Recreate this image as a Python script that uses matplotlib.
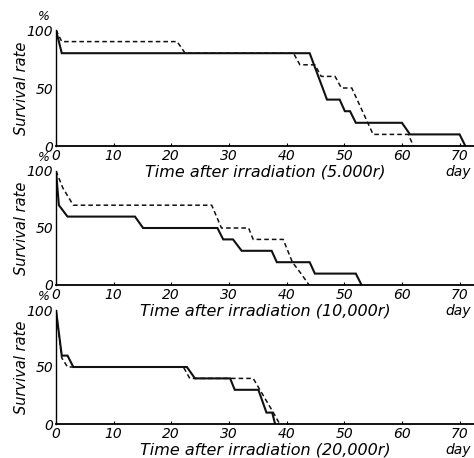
import matplotlib
matplotlib.use("Agg")
import matplotlib.pyplot as plt

plt.rcParams['font.family'] = ['DejaVu Sans']
plt.rcParams['font.style'] = 'italic'

# survival curves (day, % surviving), solid and dashed groups
t1_solid = [0, 1, 44, 47, 49.2, 50.1, 51, 52, 60, 61.4, 70, 71]
v1_solid = [100, 80, 80, 40, 40, 30, 30, 20, 20, 10, 10, 0]
t1_dash = [0, 1, 21, 22.4, 41.2, 42.3, 44.9, 46, 48.4, 49.5, 51.3, 55, 61.1, 62]
v1_dash = [100, 90, 90, 80, 80, 70, 70, 60, 60, 50, 50, 10, 10, 0]

t2_solid = [0, 0.5, 2, 13.7, 15.1, 28, 29, 30.7, 32.2, 37.4, 38.3, 44, 44.9, 52, 53]
v2_solid = [100, 70, 60, 60, 50, 50, 40, 40, 30, 30, 20, 20, 10, 10, 0]
t2_dash = [0, 1.2, 3, 27, 28.7, 33.4, 34.2, 39.4, 41, 42.5, 43.9]
v2_dash = [100, 85, 70, 70, 50, 50, 40, 40, 20, 10, 0]

t3_solid = [0, 1, 2, 3, 22.7, 24.1, 30.2, 31, 35.1, 36.5, 37.5, 38]
v3_solid = [100, 60, 60, 50, 50, 40, 40, 30, 30, 10, 10, 0]
t3_dash = [0, 1, 2, 22.1, 23.2, 34.2, 37.7, 38.8]
v3_dash = [100, 58, 50, 50, 40, 40, 10, 0]

doses = ['5.000r', '10,000r', '20,000r']
xticks = [0, 10, 20, 30, 40, 50, 60, 70]
yticks = [0, 50, 100]

panels = [(t1_solid, v1_solid, t1_dash, v1_dash),
          (t2_solid, v2_solid, t2_dash, v2_dash),
          (t3_solid, v3_solid, t3_dash, v3_dash)]

W, H = 474, 458
fig = plt.figure(figsize=(W / 100, H / 100), dpi=100)
left, right = 56, 474
tops = [30, 171, 310]
bottoms = [146, 285, 424]

for i, (ts, vs, td, vd) in enumerate(panels):
    top, bot = tops[i], bottoms[i]
    ax = fig.add_axes([left / W, 1 - bot / H, (right - left) / W, (bot - top) / H])
    ax.plot(ts, vs, color='#111111', lw=1.5, solid_joinstyle='miter')
    ax.plot(td, vd, color='#111111', lw=1.1, dashes=(3, 2))
    ax.set_xlim(0, 72.5)
    ax.set_ylim(0, 100)
    ax.set_xticks(xticks)
    ax.set_yticks(yticks)
    ax.tick_params(axis='x', direction='in', length=2, width=0.8, pad=2, labelsize=10)
    ax.tick_params(axis='y', length=0, pad=2, labelsize=10)
    for s in ['top', 'right']:
        ax.spines[s].set_visible(False)
    ax.spines['left'].set_linewidth(1.0)
    ax.spines['bottom'].set_linewidth(1.3)
    ax.patch.set_alpha(0)
    fig.text(44 / W, 1 - (top - 14) / H, '%', fontsize=9, ha='center', va='center')
    lab_y = 172 - 146 + bot
    fig.text(265 / W, 1 - lab_y / H, 'Time after irradiation (' + doses[i] + ')',
             fontsize=11.5, ha='center', va='center')
    fig.text(458 / W, 1 - lab_y / H, 'day', fontsize=10, ha='center', va='center')
    fig.text(22 / W, 1 - (top + bot) / 2 / H, 'Survival rate', fontsize=10.5,
             rotation=90, ha='center', va='center')

fig.savefig('out.png', dpi=100, facecolor='white')
